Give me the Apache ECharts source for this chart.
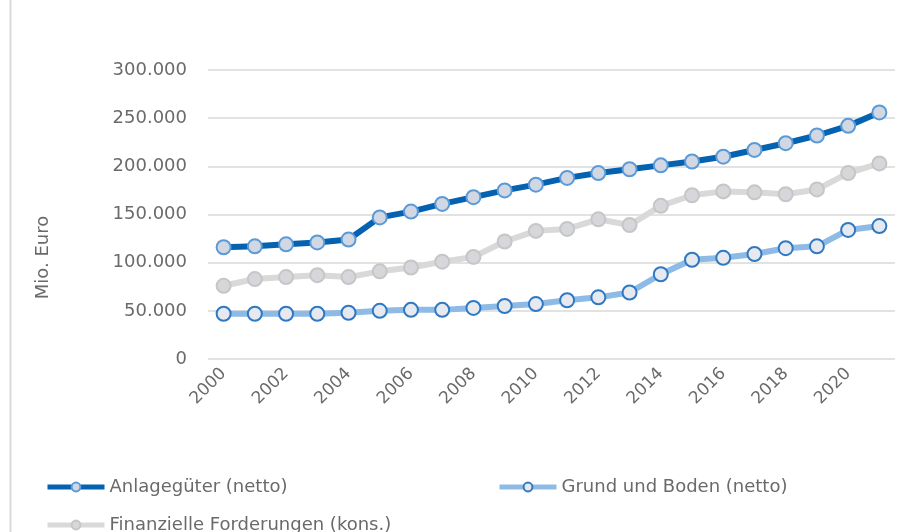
<!DOCTYPE html>
<html>
<head>
<meta charset="utf-8">
<script src="https://cdn.jsdelivr.net/npm/echarts@6/dist/echarts.min.js"></script>
<style>
  html, body { margin: 0; padding: 0; background: #fff; }
  #main { width: 907px; height: 532px; }
</style>
</head>
<body>
<div id="main"></div>
<script>
// Jahre
var years = ['2000','2001','2002','2003','2004','2005','2006','2007','2008','2009','2010',
             '2011','2012','2013','2014','2015','2016','2017','2018','2019','2020','2021'];
// Mio. Euro
var anlagegueter = [116000,117000,119000,121000,124000,147000,153000,161000,168000,175000,181000,
                    188000,193000,197000,201000,205000,210000,217000,224000,232000,242000,256000];
var grundBoden = [47000,47000,47000,47000,48000,50000,51000,51000,53000,55000,57000,
                  61000,64000,69000,88000,103000,105000,109000,115000,117000,134000,138000];
var finanzForderungen = [76000,83000,85000,87000,85000,91000,95000,101000,106000,122000,133000,
                         135000,145000,139000,159000,170000,174000,173000,171000,176000,193000,203000];
var yTicks = [0, 50000, 100000, 150000, 200000, 250000, 300000];

var FONT = 'DejaVu Sans';
var GREY = '#6a6a6a';

function fmt(v) {
    return String(v).replace(/\B(?=(\d{3})+(?!\d))/g, '.');
}

function legendAt(left, top, name) {
    return {
        left: left, top: top, itemWidth: 57, itemHeight: 11, itemGap: 0,
        lineStyle: { width: 5 },
        textStyle: { fontFamily: FONT, fontSize: 18, color: GREY },
        data: [name]
    };
}

var myChart = echarts.init(document.getElementById('main'));

var option = {
    animation: false,
    textStyle: { fontFamily: FONT },
    graphic: [{
        type: 'line',
        shape: { x1: 10.5, y1: 0, x2: 10.5, y2: 532 },
        style: { stroke: '#d9d9d9', lineWidth: 2 }
    }],
    grid: { left: 208, right: 12, top: 70, bottom: 173, containLabel: false },
    legend: [
        legendAt(40, 473, 'Anlagegüter (netto)'),
        legendAt(492, 473, 'Grund und Boden (netto)'),
        legendAt(40, 511, 'Finanzielle Forderungen (kons.)')
    ],
    xAxis: {
        type: 'category',
        data: years,
        boundaryGap: true,
        axisLine: { show: false },
        axisTick: { show: false },
        axisLabel: {
            interval: 1,
            rotate: 45,
            fontFamily: FONT,
            fontSize: 17,
            color: GREY,
            margin: 12
        }
    },
    yAxis: {
        type: 'value',
        min: yTicks[0],
        max: yTicks[yTicks.length - 1],
        interval: yTicks[1] - yTicks[0],
        name: 'Mio. Euro',
        nameLocation: 'middle',
        nameGap: 156,
        nameTextStyle: { fontFamily: FONT, fontSize: 18, color: GREY, padding: [0, 86, 0, 0] },
        axisLine: { show: false },
        axisTick: { show: false },
        splitLine: { lineStyle: { color: '#d9d9d9', width: 1.5 } },
        axisLabel: {
            fontFamily: FONT,
            fontSize: 18,
            color: GREY,
            margin: 21,
            formatter: fmt
        }
    },
    series: [
        {
            name: 'Finanzielle Forderungen (kons.)',
            type: 'line',
            data: finanzForderungen,
            z: 2,
            symbol: 'circle',
            symbolSize: 14,
            lineStyle: { color: '#d9d9d9', width: 6 },
            itemStyle: { color: '#d6d7da', borderColor: '#c6c6c6', borderWidth: 2 }
        },
        {
            name: 'Grund und Boden (netto)',
            type: 'line',
            data: grundBoden,
            z: 3,
            symbol: 'circle',
            symbolSize: 14,
            lineStyle: { color: '#8dbbe5', width: 6 },
            itemStyle: { color: '#e6e9ef', borderColor: '#2f78c4', borderWidth: 2 }
        },
        {
            name: 'Anlagegüter (netto)',
            type: 'line',
            data: anlagegueter,
            z: 4,
            symbol: 'circle',
            symbolSize: 14,
            lineStyle: { color: '#0562b0', width: 6 },
            itemStyle: { color: '#d1d8e3', borderColor: '#5a9ad8', borderWidth: 2 }
        }
    ]
};

myChart.setOption(option);
</script>
</body>
</html>
